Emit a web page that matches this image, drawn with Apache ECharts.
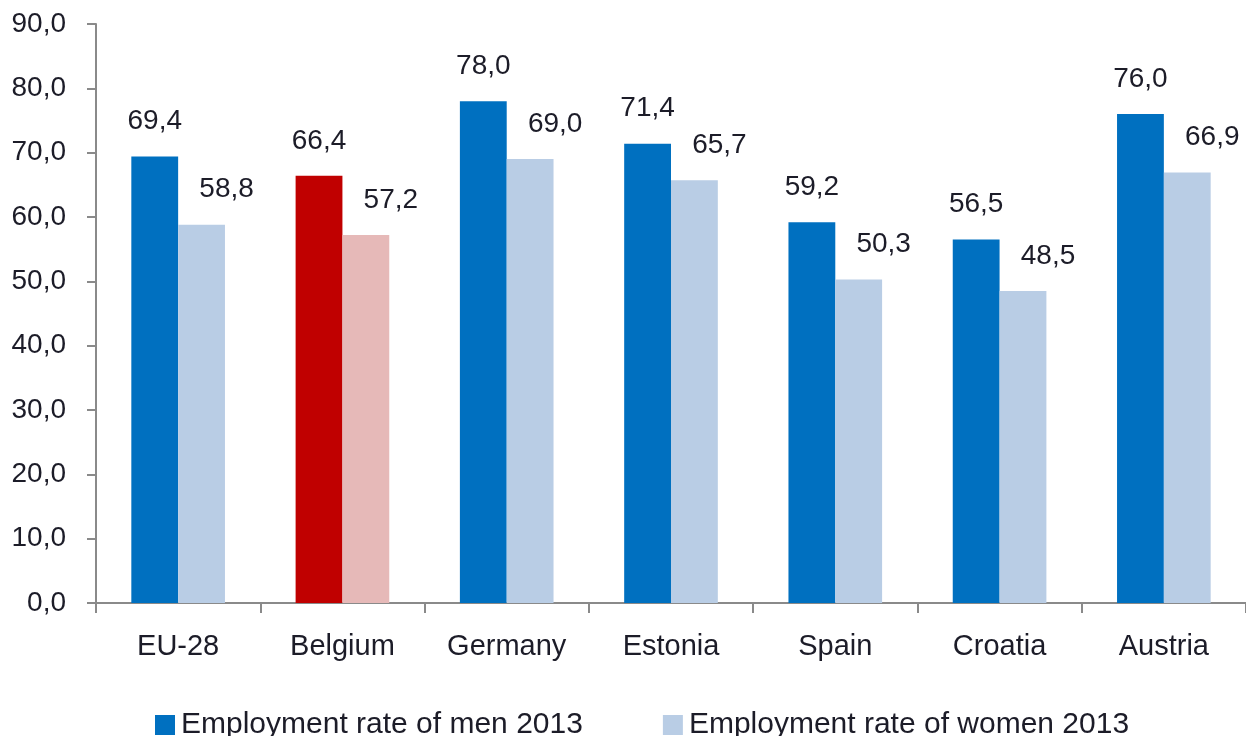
<!DOCTYPE html>
<html>
<head>
<meta charset="utf-8">
<script src="https://cdn.jsdelivr.net/npm/echarts@6/dist/echarts.min.js"></script>
<style>
html,body{margin:0;padding:0;background:#fff;}
#chart{width:1246px;height:736px;}
</style>
</head>
<body>
<div id="chart"></div>
<script>
const categories = ['EU-28', 'Belgium', 'Germany', 'Estonia', 'Spain', 'Croatia', 'Austria'];
const menValues = [69.4, 66.4, 78.0, 71.4, 59.2, 56.5, 76.0];
const womenValues = [58.8, 57.2, 69.0, 65.7, 50.3, 48.5, 66.9];
const seriesNames = ['Employment rate of men 2013', 'Employment rate of women 2013'];
const highlightCategory = 'Belgium';
const yTicks = [0, 10, 20, 30, 40, 50, 60, 70, 80, 90];

const FONT = '"Liberation Sans", Arial, sans-serif';
const TXT = '#1c1c28';
const MEN = '#0070C0', WOMEN = '#B9CDE5', MEN_HI = '#C00000', WOMEN_HI = '#E6B9B8';
const fmt = v => Number(v).toFixed(1).replace('.', ',');
const hi = categories.indexOf(highlightCategory);

const chart = echarts.init(document.getElementById('chart'), null, {renderer: 'canvas'});
chart.setOption({
  animation: false,
  backgroundColor: '#fff',
  textStyle: {fontFamily: FONT},
  grid: {left: 96, right: -4, top: 24, bottom: 133, containLabel: false},
  legend: {
    top: 705, left: 150,
    itemWidth: 20, itemHeight: 20, itemGap: 80,
    icon: 'rect',
    textStyle: {fontSize: 30, color: TXT, fontFamily: FONT, padding: [0, 0, 0, 1]},
    data: seriesNames
  },
  xAxis: {
    type: 'category',
    data: categories,
    axisLine: {lineStyle: {color: '#8a8a8a', width: 2}},
    axisTick: {show: true, length: 10, alignWithLabel: false, lineStyle: {color: '#8a8a8a', width: 2}},
    axisLabel: {fontSize: 29, color: TXT, margin: 29, fontFamily: FONT}
  },
  yAxis: {
    type: 'value',
    min: yTicks[0], max: yTicks[yTicks.length - 1], interval: 10,
    axisLine: {show: true, lineStyle: {color: '#8a8a8a', width: 2}},
    axisTick: {show: true, length: 9, lineStyle: {color: '#8a8a8a', width: 2}},
    splitLine: {show: false},
    axisLabel: {fontSize: 28, color: TXT, margin: 30, fontFamily: FONT, formatter: v => fmt(v)}
  },
  series: [
    {
      name: seriesNames[0], type: 'bar', data: menValues, color: MEN,
      barGap: '0%', barCategoryGap: '43%',
      itemStyle: {color: p => p.dataIndex === hi ? MEN_HI : MEN},
      label: {show: true, position: 'top', distance: 21, fontSize: 28, color: TXT, fontFamily: FONT, formatter: p => fmt(p.value)}
    },
    {
      name: seriesNames[1], type: 'bar', data: womenValues, color: WOMEN,
      barGap: '0%', barCategoryGap: '43%',
      itemStyle: {color: p => p.dataIndex === hi ? WOMEN_HI : WOMEN},
      label: {show: true, position: 'top', distance: 21, fontSize: 28, color: TXT, fontFamily: FONT, offset: [25, 0], formatter: p => fmt(p.value)}
    }
  ]
});
</script>
</body>
</html>
